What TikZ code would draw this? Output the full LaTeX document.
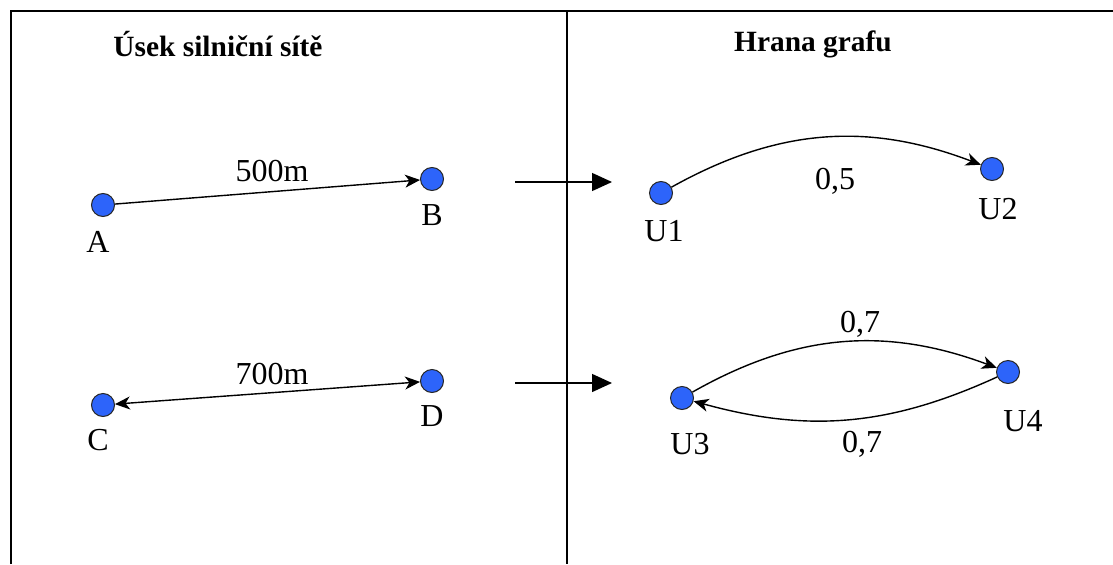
\documentclass[tikz,border=0pt]{standalone}
\usepackage{fontspec}
\setmainfont{Liberation Serif}
\usetikzlibrary{arrows.meta}
\definecolor{nodeblue}{RGB}{45,100,250}
\begin{document}
\begin{tikzpicture}[x=0.5pt,y=0.5pt,
  vert/.style={circle,draw=black!85,line width=0.5pt,fill=nodeblue,minimum size=11.5pt,inner sep=0pt},
  lbl/.style={font=\fontsize{16}{18}\selectfont,inner sep=0pt},
  ttl/.style={font=\fontsize{14.7}{17}\selectfont\bfseries,inner sep=0pt},
  tip/.tip={Stealth[length=7.5pt,width=6.5pt,inset=2.2pt]},
  edge/.style={line width=0.7pt,-tip},
  bigarrow/.style={line width=0.7pt,-{Triangle[length=10pt,width=9pt]}},
  frame/.style={line width=0.8pt}]
\useasboundingbox (0,0) rectangle (1113,564);
% frame
\coordinate (tl) at (11,553);
\coordinate (tr) at (1113,553);
\coordinate (bl) at (11,0);
\coordinate (mt) at (567,553);
\coordinate (mb) at (567,0);
\draw[frame] (bl) -- (tl) -- (tr);
\draw[frame] (mt) -- (mb);
% titles
\node[ttl] (t1) at (218,520) {Úsek silniční sítě};
\node[ttl] (t2) at (813,520) {Hrana grafu};
% left side
\node[vert] (A) at (103,359) {};
\node[vert] (B) at (432,385) {};
\node[vert] (C) at (103,159) {};
\node[vert] (D) at (432,183) {};
\node[lbl] (lA) at (98,322) {A};
\node[lbl] (lB) at (432,349) {B};
\node[lbl] (lC) at (98,124) {C};
\node[lbl] (lD) at (432,148) {D};
\draw[edge] (A) -- (B);
\draw[edge,tip-tip] (C) -- (D);
\node[lbl] (l500) at (272,393) {500m};
\node[lbl] (l700) at (272,190) {700m};
% big arrows
\coordinate (a1s) at (515,382);
\coordinate (a1e) at (612,382);
\coordinate (a2s) at (515,181);
\coordinate (a2e) at (612,181);
\draw[bigarrow] (a1s) -- (a1e);
\draw[bigarrow] (a2s) -- (a2e);
% right side
\node[vert] (U1) at (661,371) {};
\node[vert] (U2) at (992,395) {};
\node[vert] (U3) at (682,166) {};
\node[vert] (U4) at (1008,192) {};
\node[lbl] (lU1) at (664,333) {U1};
\node[lbl] (lU2) at (998,355) {U2};
\node[lbl] (lU3) at (690,120) {U3};
\node[lbl] (lU4) at (1023,143) {U4};
\draw[edge] (U1) to[bend left=25] (U2);
\draw[edge] (U3) to[bend left=25] (U4);
\draw[edge] (U4) to[bend left=20] (U3);
\node[lbl] (w05) at (835,383) {0,5};
\node[lbl] (w07a) at (860,240) {0,7};
\node[lbl] (w07b) at (862,120) {0,7};
\end{tikzpicture}
\end{document}
